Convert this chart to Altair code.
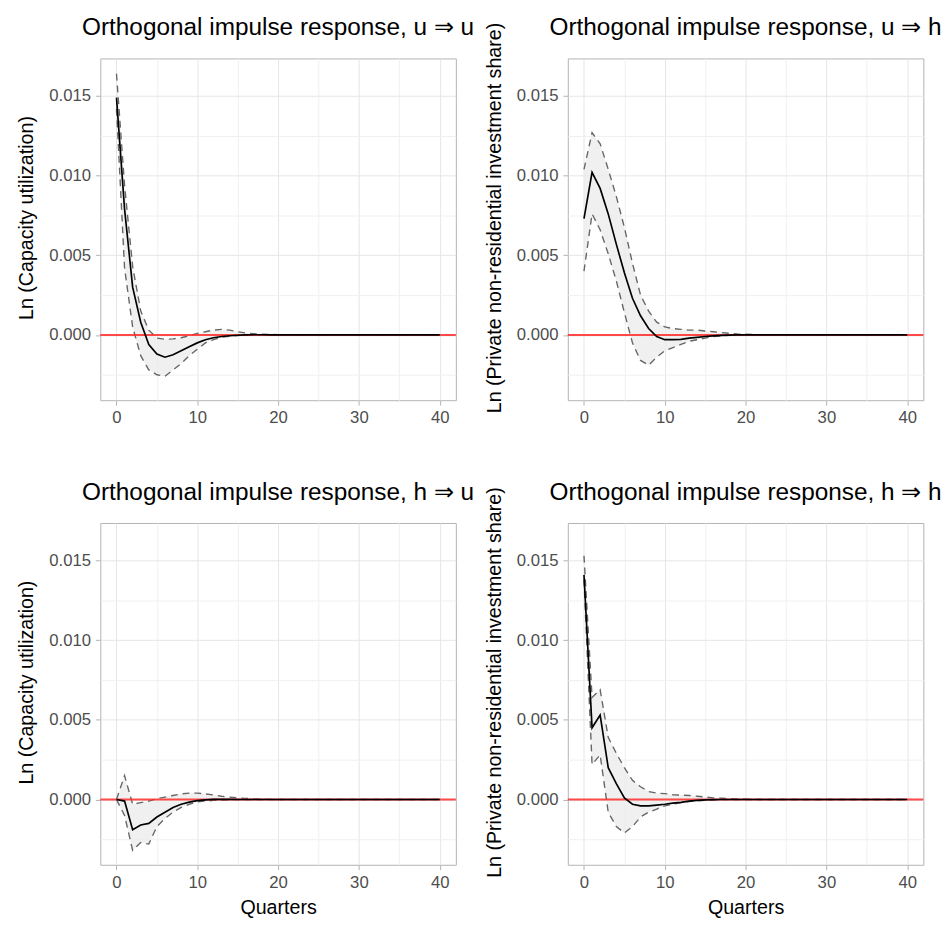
import altair as alt
import pandas as pd

quarters = list(range(41))

titles = [
    "Orthogonal impulse response, u \u21d2 u",
    "Orthogonal impulse response, u \u21d2 h",
    "Orthogonal impulse response, h \u21d2 u",
    "Orthogonal impulse response, h \u21d2 h",
]
ytitles = [
    "Ln (Capacity utilization)",
    "Ln (Private non-residential investment share)",
]
x_title = "Quarters"

# u -> u
main1 = [0.0149, 0.0079, 0.0030, 0.0008, -0.0006, -0.0012, -0.0014, -0.00125, -0.0010, -0.00075,
         -0.0005, -0.0003, -0.00018, -0.0001, -0.00005, -0.00002, 0.0, 0.00001, 0.00001, 0.0,
         0.0, 0.0, 0.0, 0.0, 0.0, 0.0, 0.0, 0.0, 0.0, 0.0,
         0.0, 0.0, 0.0, 0.0, 0.0, 0.0, 0.0, 0.0, 0.0, 0.0,
         0.0]
upper1 = [0.0164, 0.0094, 0.0043, 0.0015, 0.0003, -0.0002, -0.00027, -0.00025, -0.00018, -0.00005,
          0.0001, 0.0002, 0.0003, 0.00035, 0.0003, 0.0002, 0.00012, 0.00008, 0.00005, 0.00003,
          0.00002, 0.00001, 0.00001, 0.0, 0.0, 0.0, 0.0, 0.0, 0.0, 0.0,
          0.0, 0.0, 0.0, 0.0, 0.0, 0.0, 0.0, 0.0, 0.0, 0.0,
          0.0]
lower1 = [0.0142, 0.0042, 0.0005, -0.0013, -0.0022, -0.0025, -0.0026, -0.0022, -0.0018, -0.0013,
          -0.0009, -0.0005, -0.0003, -0.00015, -0.00008, -0.00004, -0.00002, -0.00001, 0.0, 0.0,
          0.0, 0.0, 0.0, 0.0, 0.0, 0.0, 0.0, 0.0, 0.0, 0.0,
          0.0, 0.0, 0.0, 0.0, 0.0, 0.0, 0.0, 0.0, 0.0, 0.0,
          0.0]

# u -> h
main2 = [0.0073, 0.0102, 0.0092, 0.0076, 0.0057, 0.0039, 0.0023, 0.0012, 0.0004, -0.0001,
         -0.0003, -0.0003, -0.00028, -0.0002, -0.00015, -0.0001, -0.00006, -0.00003, -0.00001, 0.0,
         0.0, 0.0, 0.0, 0.0, 0.0, 0.0, 0.0, 0.0, 0.0, 0.0,
         0.0, 0.0, 0.0, 0.0, 0.0, 0.0, 0.0, 0.0, 0.0, 0.0,
         0.0]
upper2 = [0.0104, 0.0127, 0.0120, 0.0104, 0.0087, 0.00675, 0.0045, 0.0025, 0.0015, 0.0008,
          0.0005, 0.0004, 0.00035, 0.0003, 0.0003, 0.00025, 0.0002, 0.00015, 0.0001, 0.00006,
          0.00004, 0.00002, 0.00001, 0.0, 0.0, 0.0, 0.0, 0.0, 0.0, 0.0,
          0.0, 0.0, 0.0, 0.0, 0.0, 0.0, 0.0, 0.0, 0.0, 0.0,
          0.0]
lower2 = [0.0040, 0.0076, 0.0066, 0.0051, 0.0034, 0.0014, -0.0005, -0.0016, -0.0019, -0.0014,
          -0.0010, -0.0008, -0.0006, -0.0004, -0.0003, -0.0002, -0.0001, -0.00006, -0.00003, -0.00001,
          0.0, 0.0, 0.0, 0.0, 0.0, 0.0, 0.0, 0.0, 0.0, 0.0,
          0.0, 0.0, 0.0, 0.0, 0.0, 0.0, 0.0, 0.0, 0.0, 0.0,
          0.0]

# h -> u
main3 = [0.0, -0.0001, -0.0019, -0.0016, -0.0015, -0.0011, -0.0008, -0.0005, -0.0003, -0.00017,
         -0.00007, -0.00002, 0.00001, 0.00001, 0.00001, 0.0, 0.0, 0.0, 0.0, 0.0,
         0.0, 0.0, 0.0, 0.0, 0.0, 0.0, 0.0, 0.0, 0.0, 0.0,
         0.0, 0.0, 0.0, 0.0, 0.0, 0.0, 0.0, 0.0, 0.0, 0.0,
         0.0]
upper3 = [0.0, 0.0015, -0.0003, -0.0002, -0.0001, 0.00005, 0.00015, 0.00025, 0.00035, 0.0004,
          0.0004, 0.00035, 0.00028, 0.0002, 0.00015, 0.0001, 0.00007, 0.00004, 0.00002, 0.00001,
          0.0, 0.0, 0.0, 0.0, 0.0, 0.0, 0.0, 0.0, 0.0, 0.0,
          0.0, 0.0, 0.0, 0.0, 0.0, 0.0, 0.0, 0.0, 0.0, 0.0,
          0.0]
lower3 = [0.0, -0.0010, -0.0032, -0.0027, -0.0028, -0.0017, -0.0012, -0.0008, -0.0005, -0.0003,
          -0.00015, -0.0001, -0.00006, -0.00003, -0.00001, 0.0, 0.0, 0.0, 0.0, 0.0,
          0.0, 0.0, 0.0, 0.0, 0.0, 0.0, 0.0, 0.0, 0.0, 0.0,
          0.0, 0.0, 0.0, 0.0, 0.0, 0.0, 0.0, 0.0, 0.0, 0.0,
          0.0]

# h -> h
main4 = [0.0141, 0.0045, 0.0053, 0.0020, 0.0010, 0.0001, -0.0003, -0.0004, -0.0004, -0.00035,
         -0.0003, -0.00023, -0.00018, -0.0001, -0.00006, -0.00003, -0.00001, 0.0, 0.0, 0.0,
         0.0, 0.0, 0.0, 0.0, 0.0, 0.0, 0.0, 0.0, 0.0, 0.0,
         0.0, 0.0, 0.0, 0.0, 0.0, 0.0, 0.0, 0.0, 0.0, 0.0,
         0.0]
upper4 = [0.0153, 0.0064, 0.0069, 0.0039, 0.0029, 0.0020, 0.0012, 0.0008, 0.0005, 0.0004,
          0.00037, 0.0003, 0.00028, 0.00025, 0.0002, 0.00016, 0.0001, 0.00008, 0.00006, 0.00004,
          0.00002, 0.00001, 0.0, 0.0, 0.0, 0.0, 0.0, 0.0, 0.0, 0.0,
          0.0, 0.0, 0.0, 0.0, 0.0, 0.0, 0.0, 0.0, 0.0, 0.0,
          0.0]
lower4 = [0.0138, 0.0022, 0.0028, -0.0008, -0.0017, -0.0021, -0.0017, -0.0011, -0.0008, -0.0006,
          -0.0004, -0.0003, -0.0002, -0.00013, -0.00008, -0.00005, -0.00003, -0.00001, 0.0, 0.0,
          0.0, 0.0, 0.0, 0.0, 0.0, 0.0, 0.0, 0.0, 0.0, 0.0,
          0.0, 0.0, 0.0, 0.0, 0.0, 0.0, 0.0, 0.0, 0.0, 0.0,
          0.0]

x_values = [0, 5, 10, 15, 20, 25, 30, 35, 40]
y_values = [-0.0025, 0.0, 0.0025, 0.005, 0.0075, 0.01, 0.0125, 0.015]

FONT = "Liberation Sans"
W, H = 362, 348


def panel(main, lower, upper, title, ytitle, show_xtitle, title_offset):
    df = pd.DataFrame({"q": quarters, "irf": main, "lower": lower, "upper": upper})
    xaxis = alt.Axis(
        values=x_values,
        labelExpr="datum.value % 10 === 0 ? datum.label : ''",
        tickOpacity={"condition": {"test": "datum.value % 10 !== 0", "value": 0}, "value": 1},
        gridColor={"condition": {"test": "datum.value % 10 !== 0", "value": "#f0f0f0"}, "value": "#e6e6e6"},
        title=x_title if show_xtitle else None,
        titlePadding=8,
        labelFlush=False,
    )
    yaxis = alt.Axis(
        values=y_values,
        format=".3f",
        labelExpr="abs(round(datum.value * 400)) % 2 === 0 ? datum.label : ''",
        tickOpacity={"condition": {"test": "abs(round(datum.value * 400)) % 2 === 1", "value": 0}, "value": 1},
        gridColor={"condition": {"test": "abs(round(datum.value * 400)) % 2 === 1", "value": "#f0f0f0"}, "value": "#e6e6e6"},
        title=ytitle,
        titlePadding=12,
        titleY=162,
        labelFlush=False,
    )
    xs = alt.Scale(domain=[-2, 42], nice=False, zero=False)
    ys = alt.Scale(domain=[-0.0041, 0.01736], nice=False, zero=False)
    x = alt.X("q:Q", scale=xs, axis=xaxis)
    base = alt.Chart(df)
    band = base.mark_area(color="#ebebeb", opacity=0.75).encode(
        x=x, y=alt.Y("lower:Q", scale=ys, axis=yaxis), y2="upper:Q"
    )
    up = base.mark_line(color="#666666", strokeDash=[7, 5], strokeWidth=1.4).encode(
        x=x, y=alt.Y("upper:Q", scale=ys, axis=yaxis)
    )
    lo = base.mark_line(color="#666666", strokeDash=[7, 5], strokeWidth=1.4).encode(
        x=x, y=alt.Y("lower:Q", scale=ys, axis=yaxis)
    )
    zero = alt.Chart(pd.DataFrame({"zero": [0.0]})).mark_rule(
        color="#ff2a2a", strokeWidth=2, opacity=0.85
    ).encode(y=alt.Y("zero:Q", scale=ys, axis=yaxis))
    line = base.mark_line(color="black", strokeWidth=1.7).encode(
        x=x, y=alt.Y("irf:Q", scale=ys, axis=yaxis)
    )
    return alt.layer(band, up, lo, zero, line).properties(
        width=W,
        height=H,
        title=alt.TitleParams(
            text=title, anchor="middle", frame="group", fontSize=24.8, font=FONT,
            fontWeight="normal", color="black", offset=title_offset,
        ),
    )


p1 = panel(main1, lower1, upper1, titles[0], ytitles[0], False, 19)
p2 = panel(main2, lower2, upper2, titles[1], ytitles[1], False, -18)
p3 = panel(main3, lower3, upper3, titles[2], ytitles[0], True, 19)
p4 = panel(main4, lower4, upper4, titles[3], ytitles[1], True, -18)

chart = alt.vconcat(
    alt.hconcat(p1, p2, spacing=8),
    alt.hconcat(p3, p4, spacing=8),
    spacing=53,
).properties(
    padding={"left": 8, "top": -2, "right": 0, "bottom": 0}
).configure_view(
    stroke="#b3b3b3", strokeWidth=1
).configure_axis(
    domain=False,
    tickColor="#b3b3b3",
    tickSize=5,
    labelColor="#4d4d4d",
    labelFontSize=17,
    labelFont=FONT,
    labelPadding=5,
    titleFont=FONT,
    titleFontSize=20,
    titleFontWeight="normal",
    titleColor="black",
    gridWidth=1,
).configure_concat(spacing=8)

chart.save("out.html", embed_options={"renderer": "svg", "actions": False})
